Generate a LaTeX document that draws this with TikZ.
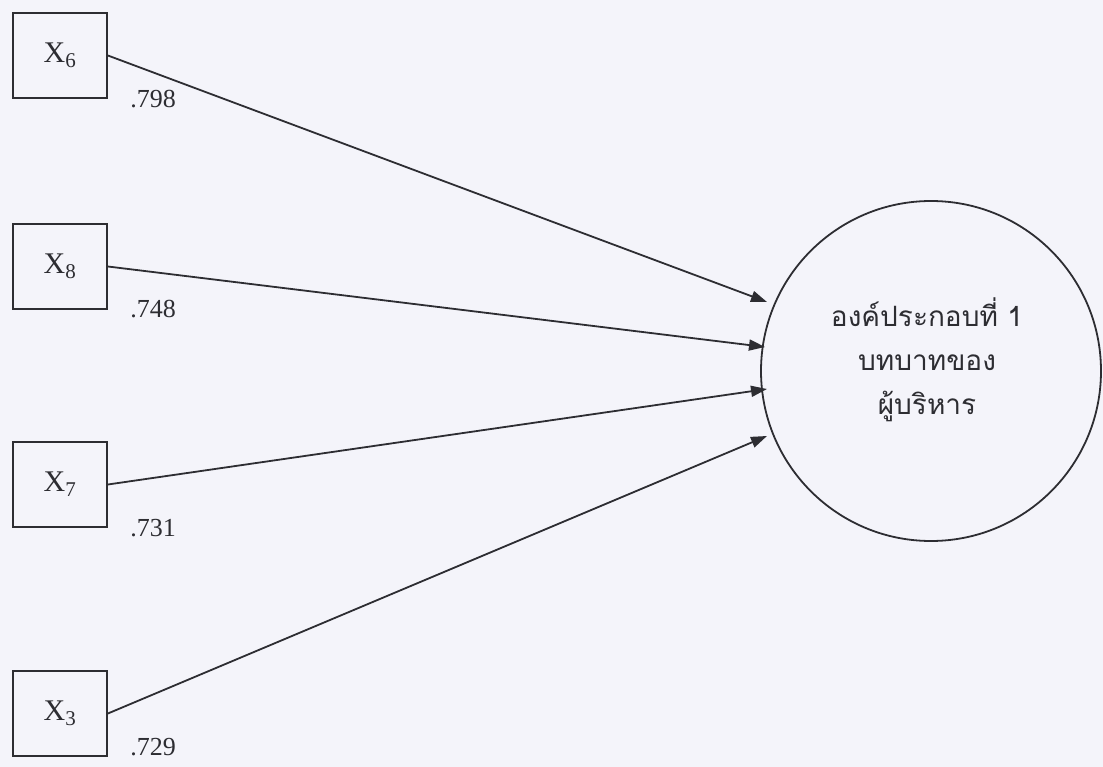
\documentclass[tikz,border=0pt]{standalone}
\usepackage{fontspec}
\setmainfont{Liberation Serif}
\newfontfamily\thaifont[Script=Thai]{Loma}
\usetikzlibrary{arrows.meta}
\definecolor{paper}{RGB}{244,244,250}
\definecolor{ink}{RGB}{45,45,50}
\begin{document}
\begin{tikzpicture}[x=1pt,y=-1pt,
  varbox/.style={draw=ink,line width=1.8pt,minimum width=94pt,minimum height=85pt,inner sep=0pt,
    font=\fontsize{30}{32}\selectfont,text=ink},
  loading/.style={font=\fontsize{26}{28}\selectfont,text=ink,inner sep=0pt},
  factor/.style={draw=ink,line width=1.8pt,circle,minimum size=340pt,inner sep=0pt},
  path/.style={draw=ink,line width=1.8pt,-{Triangle[length=16pt,width=11pt]}}]
\useasboundingbox (0,0) rectangle (1103,767);
\fill[paper] (0,0) rectangle (1103,767);

% observed variables
\node[varbox] (x6) at (60,55.5) {X\textsubscript{6}};
\node[varbox] (x8) at (60,266.5) {X\textsubscript{8}};
\node[varbox] (x7) at (60,484.5) {X\textsubscript{7}};
\node[varbox] (x3) at (60,713.5) {X\textsubscript{3}};

% factor loadings
\node[loading] (l6) at (153,99) {.798};
\node[loading] (l8) at (153,309) {.748};
\node[loading] (l7) at (153,528) {.731};
\node[loading] (l3) at (153,747) {.729};

% latent factor
\node[factor] (f1) at (931,371) {};
\node[align=center,text=ink,font=\thaifont\fontsize{28}{44}\selectfont] (f1text) at (927,360)
  {องค์ประกอบที่ 1\\บทบาทของ\\ผู้บริหาร};

% arrow tips just outside the factor
\coordinate (t6) at (767,302);
\coordinate (t8) at (765,347);
\coordinate (t7) at (767,389);
\coordinate (t3) at (767,436);

\draw[path] (x6.east) -- (t6);
\draw[path] (x8.east) -- (t8);
\draw[path] (x7.east) -- (t7);
\draw[path] (x3.east) -- (t3);
\end{tikzpicture}
\end{document}
